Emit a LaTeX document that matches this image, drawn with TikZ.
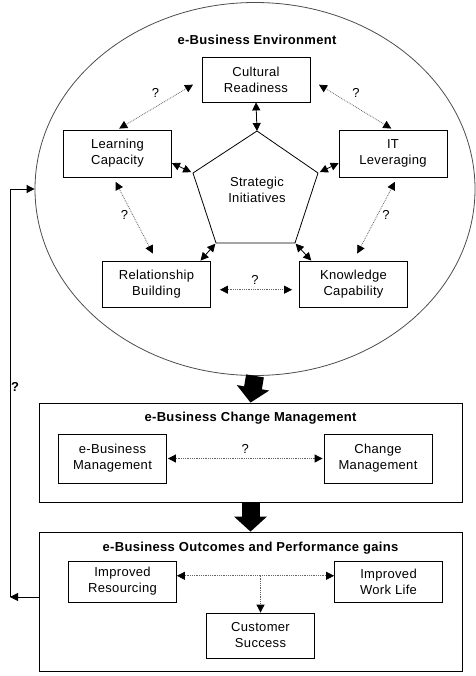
\documentclass[tikz,border=0pt]{standalone}
\usepackage{fontspec}
\setmainfont[LetterSpace=2.5]{Liberation Sans}
\usetikzlibrary{shapes.geometric,arrows.meta}
\begin{document}
\begin{tikzpicture}[
    x=1pt, y=-1pt,
    font=\fontsize{13pt}{16pt}\selectfont,
    box/.style={rectangle, draw, line width=0.8pt, align=center, minimum width=108pt, minimum height=#1, inner sep=0pt},
    box/.default=46pt,
    frame/.style={rectangle, draw, line width=0.8pt, minimum width=423pt, minimum height=#1, inner sep=0pt},
    heading/.style={font=\bfseries\fontsize{13pt}{16pt}\selectfont},
    tip/.tip={Triangle[length=8pt,width=8pt,color=black]},
    solidarrow/.style={tip-tip, line width=0.8pt},
    dotarrow/.style={tip-tip, densely dotted, line width=0.8pt, draw=black!60},
    bigarrow/.style={-{Triangle[length=15pt,width=32pt]}, line width=18pt},
    fbarrow/.style={-tip, line width=0.8pt}
]
    \useasboundingbox (0,0) rectangle (475,676);

    % environment
    \node[ellipse, draw=black!70, line width=0.8pt, minimum width=440pt, minimum height=373pt, inner sep=0pt] (env) at (255,189) {};
    \node[heading] (envtitle) at (257,40) {e-Business Environment};

    \node[box=45pt] (cult) at (256,79.5) {Cultural\\Readiness};
    \node[box=47pt] (learn) at (117.5,153.5) {Learning\\Capacity};
    \node[box=47pt] (itlev) at (393,153.5) {IT\\Leveraging};
    \node[box] (rel) at (156.5,284) {Relationship\\Building};
    \node[box] (know) at (353.5,284) {Knowledge\\Capability};

    % pentagon
    \coordinate (p1) at (257,131);
    \coordinate (p2) at (193,173);
    \coordinate (p3) at (318,173);
    \coordinate (p4) at (216,243);
    \coordinate (p5) at (295,243);
    \draw[line width=0.8pt] (p1) -- (p3) -- (p5) -- (p4) -- (p2) -- cycle;
    \node[align=center] (strat) at (257,190) {Strategic\\Initiatives};

    \draw[solidarrow] (cult.south) -- (p1);
    \draw[solidarrow, shorten >=2pt] (learn.-10) -- (p2);
    \draw[solidarrow, shorten >=2pt] (itlev.190) -- (p3);
    \draw[solidarrow, shorten >=1pt] (rel.28) -- (p4);
    \draw[solidarrow, shorten >=1pt] (know.151) -- (p5);

    \draw[dotarrow, shorten <=10pt, shorten >=2pt] (cult.west) -- (learn.north) node[pos=0.45, above left=1pt] {?};
    \draw[dotarrow, shorten <=10pt, shorten >=2pt] (cult.east) -- (itlev.north) node[pos=0.45, above right=1pt] {?};
    \draw[dotarrow, shorten <=5pt, shorten >=8pt] (learn.-100) -- (rel.north) node[pos=0.45, left=1pt] {?};
    \draw[dotarrow, shorten <=5pt, shorten >=8pt] (itlev.-80) -- (know.north) node[pos=0.45, right=1pt] {?};
    \draw[dotarrow, shorten <=9pt, shorten >=7pt] (rel.-6) -- (know.186) node[midway, above=1pt] {?};

    % change management
    \node[frame=99pt] (chg) at (250.5,452.5) {};
    \node[heading] (chgtitle) at (250.5,418) {e-Business Change Management};
    \node[box=49pt] (ebm) at (112.5,458.5) {e-Business\\Management};
    \node[box=49pt] (chm) at (378,458.5) {Change\\Management};
    \draw[dotarrow, shorten <=1pt, shorten >=1pt] (ebm.east) -- (chm.west) node[midway, above=1pt] {?};

    % outcomes
    \node[frame=139pt] (outc) at (250.5,601.5) {};
    \node[heading] (outctitle) at (250.5,548) {e-Business Outcomes and Performance gains};
    \node[box=41pt] (res) at (122.5,581.5) {Improved\\Resourcing};
    \node[box=41pt] (work) at (388.5,581.5) {Improved\\Work Life};
    \node[box=45pt] (cust) at (260.5,635.5) {Customer\\Success};
    \draw[dotarrow] (res.6) -- (work.174);
    \draw[dotarrow, -tip] (cust.north |- res.6) -- (cust.north);

    % flow between the stages
    \draw[bigarrow] (env.south) -- (chg.north);
    \draw[bigarrow] (chg.south) -- (outc.north);

    % feedback loop
    \coordinate (fbl) at (10,597);
    \draw[fbarrow] (outc.west |- fbl) -- (fbl);
    \draw[fbarrow] (fbl) |- (env.west);
    \node[heading, anchor=west, inner sep=1pt] (fbq) at (10,387) {?};
\end{tikzpicture}
\end{document}
